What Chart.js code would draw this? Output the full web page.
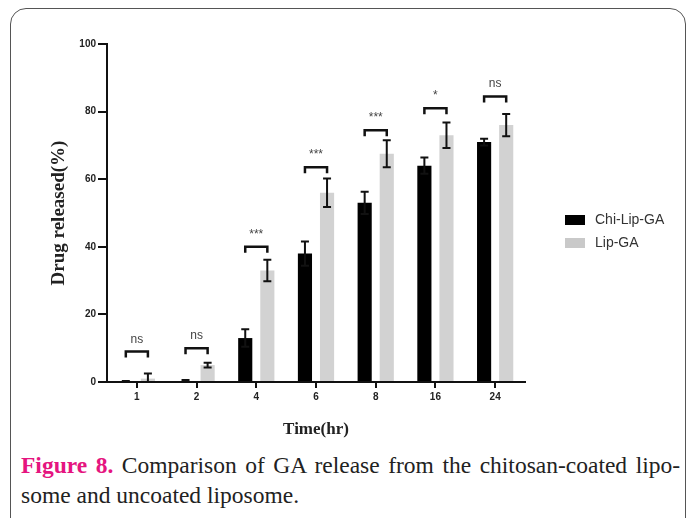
<!DOCTYPE html>
<html>
<head>
<meta charset="utf-8">
<script src="https://cdn.jsdelivr.net/npm/chart.js@4.4.0/dist/chart.umd.min.js"></script>
<style>
  html, body { margin: 0; padding: 0; background: #fff; }
  body { width: 696px; height: 518px; position: relative; overflow: hidden; }
  #frame {
    position: absolute; left: 10px; top: 8px; width: 676px; height: 530px;
    border: 1px solid #555; border-radius: 16px; box-sizing: border-box;
  }
  #wrap { position: absolute; left: 0; top: 0; width: 696px; height: 450px; }
  #caption {
    position: absolute; left: 21px; top: 450px; width: 659px;
    font-family: "Liberation Serif", "Times New Roman", serif;
    font-size: 23.5px; line-height: 30px; color: #222;
  }
  #caption .l1 { text-align: justify; text-align-last: justify; }
  #caption b { color: #e5157f; }
</style>
</head>
<body>
<div id="frame"></div>
<div id="wrap"><canvas id="releaseChart"></canvas></div>
<div id="caption">
  <div class="l1"><b>Figure 8.</b> Comparison of GA release from the chitosan-coated lipo-</div>
  <div>some and uncoated liposome.</div>
</div>
<script>
// values
const labels = ['1', '2', '4', '6', '8', '16', '24'];
const chiLipGA = [0, 0.3, 13, 38, 53, 64, 71];
const chiErr = [0.3, 0.3, 2.6, 3.6, 3.3, 2.4, 1.0];
const lipGA = [1, 5, 33, 56, 67.5, 73, 76];
const lipErr = [1.5, 0.7, 3.2, 4.2, 4, 3.8, 3.3];
const sigLabels = ['ns', 'ns', '***', '***', '***', '*', 'ns'];
const bracketAt = [9, 10, 40, 63.5, 74.5, 81, 84.5];

const ctx = document.getElementById('releaseChart').getContext('2d');

// error bars, significance brackets and the legend
const extras = {
  id: 'extras',
  afterDatasetsDraw(chart) {
    const c = chart.ctx;
    const y = chart.scales.y;
    const errs = [chiErr, lipErr];
    c.save();
    c.strokeStyle = '#111';
    c.lineWidth = 2;
    chart.data.datasets.forEach((ds, di) => {
      chart.getDatasetMeta(di).data.forEach((bar, i) => {
        const v = ds.data[i];
        const yt = y.getPixelForValue(v + errs[di][i]);
        const yb = y.getPixelForValue(Math.max(0, v - errs[di][i]));
        c.beginPath();
        c.moveTo(bar.x, yt); c.lineTo(bar.x, yb);
        c.moveTo(bar.x - 4, yt); c.lineTo(bar.x + 4, yt);
        c.moveTo(bar.x - 4, yb); c.lineTo(bar.x + 4, yb);
        c.stroke();
      });
    });
    const m0 = chart.getDatasetMeta(0).data;
    const m1 = chart.getDatasetMeta(1).data;
    c.lineWidth = 2.5;
    c.font = '12px "Liberation Sans", Arial, sans-serif';
    c.textAlign = 'center';
    c.textBaseline = 'alphabetic';
    c.fillStyle = '#444';
    bracketAt.forEach((b, i) => {
      const yy = y.getPixelForValue(b);
      const x0 = m0[i].x, x1 = m1[i].x;
      c.beginPath();
      c.moveTo(x0, yy + 6); c.lineTo(x0, yy); c.lineTo(x1, yy); c.lineTo(x1, yy + 6);
      c.stroke();
      c.fillText(sigLabels[i], (x0 + x1) / 2, yy - 9);
    });
    // legend
    chart.data.datasets.forEach((ds, di) => {
      const ly = 220 + di * 23;
      c.fillStyle = di === 0 ? '#000' : '#c9c9c9';
      c.fillRect(565, ly - 5, 20, 10);
      c.fillStyle = '#333';
      c.textAlign = 'left';
      c.textBaseline = 'middle';
      c.font = '14px "Liberation Sans", Arial, sans-serif';
      c.fillText(ds.label, 595, ly);
    });
    c.restore();
  }
};

const data = {
  labels,
  datasets: [
    { label: 'Chi-Lip-GA', data: chiLipGA, backgroundColor: '#000' },
    { label: 'Lip-GA', data: lipGA, backgroundColor: '#d2d2d2' },
  ],
};

const config = {
  type: 'bar',
  data: data,
  plugins: [extras],
  options: {
    responsive: true,
    maintainAspectRatio: false,
    animation: false,
    categoryPercentage: 0.74,
    barPercentage: 0.64,
    layout: { padding: { left: 40, right: 171, top: 44, bottom: 10 } },
    plugins: { legend: { display: false }, tooltip: { enabled: false } },
    scales: {
      y: {
        min: 0, max: 100,
        ticks: { stepSize: 20, color: '#222', padding: 2,
          font: { family: '"Liberation Sans", Arial, sans-serif', size: 10, weight: 'bold' } },
        grid: { drawOnChartArea: false, drawTicks: true, tickLength: 9, color: '#111', lineWidth: 2 },
        border: { color: '#111', width: 2 },
        title: { display: true, text: 'Drug released(%)', color: '#222', padding: { top: 8, bottom: 0 },
          font: { family: '"Liberation Serif", "Times New Roman", serif', size: 19, weight: 'bold' } },
        afterFit: (s) => { s.width = 67; },
      },
      x: {
        ticks: { color: '#222', padding: 3,
          font: { family: '"Liberation Sans", Arial, sans-serif', size: 10, weight: 'bold' } },
        grid: { offset: false, drawOnChartArea: false, drawTicks: true, tickLength: 6, color: '#111', lineWidth: 2 },
        border: { color: '#111', width: 2 },
        title: { display: true, text: 'Time(hr)', color: '#222', padding: { top: 4, bottom: 0 },
          font: { family: '"Liberation Serif", "Times New Roman", serif', size: 17, weight: 'bold' } },
        afterFit: (s) => { s.height = 58; },
      },
    },
  },
};

const releaseChart = new Chart(ctx, config);
</script>
</body>
</html>
